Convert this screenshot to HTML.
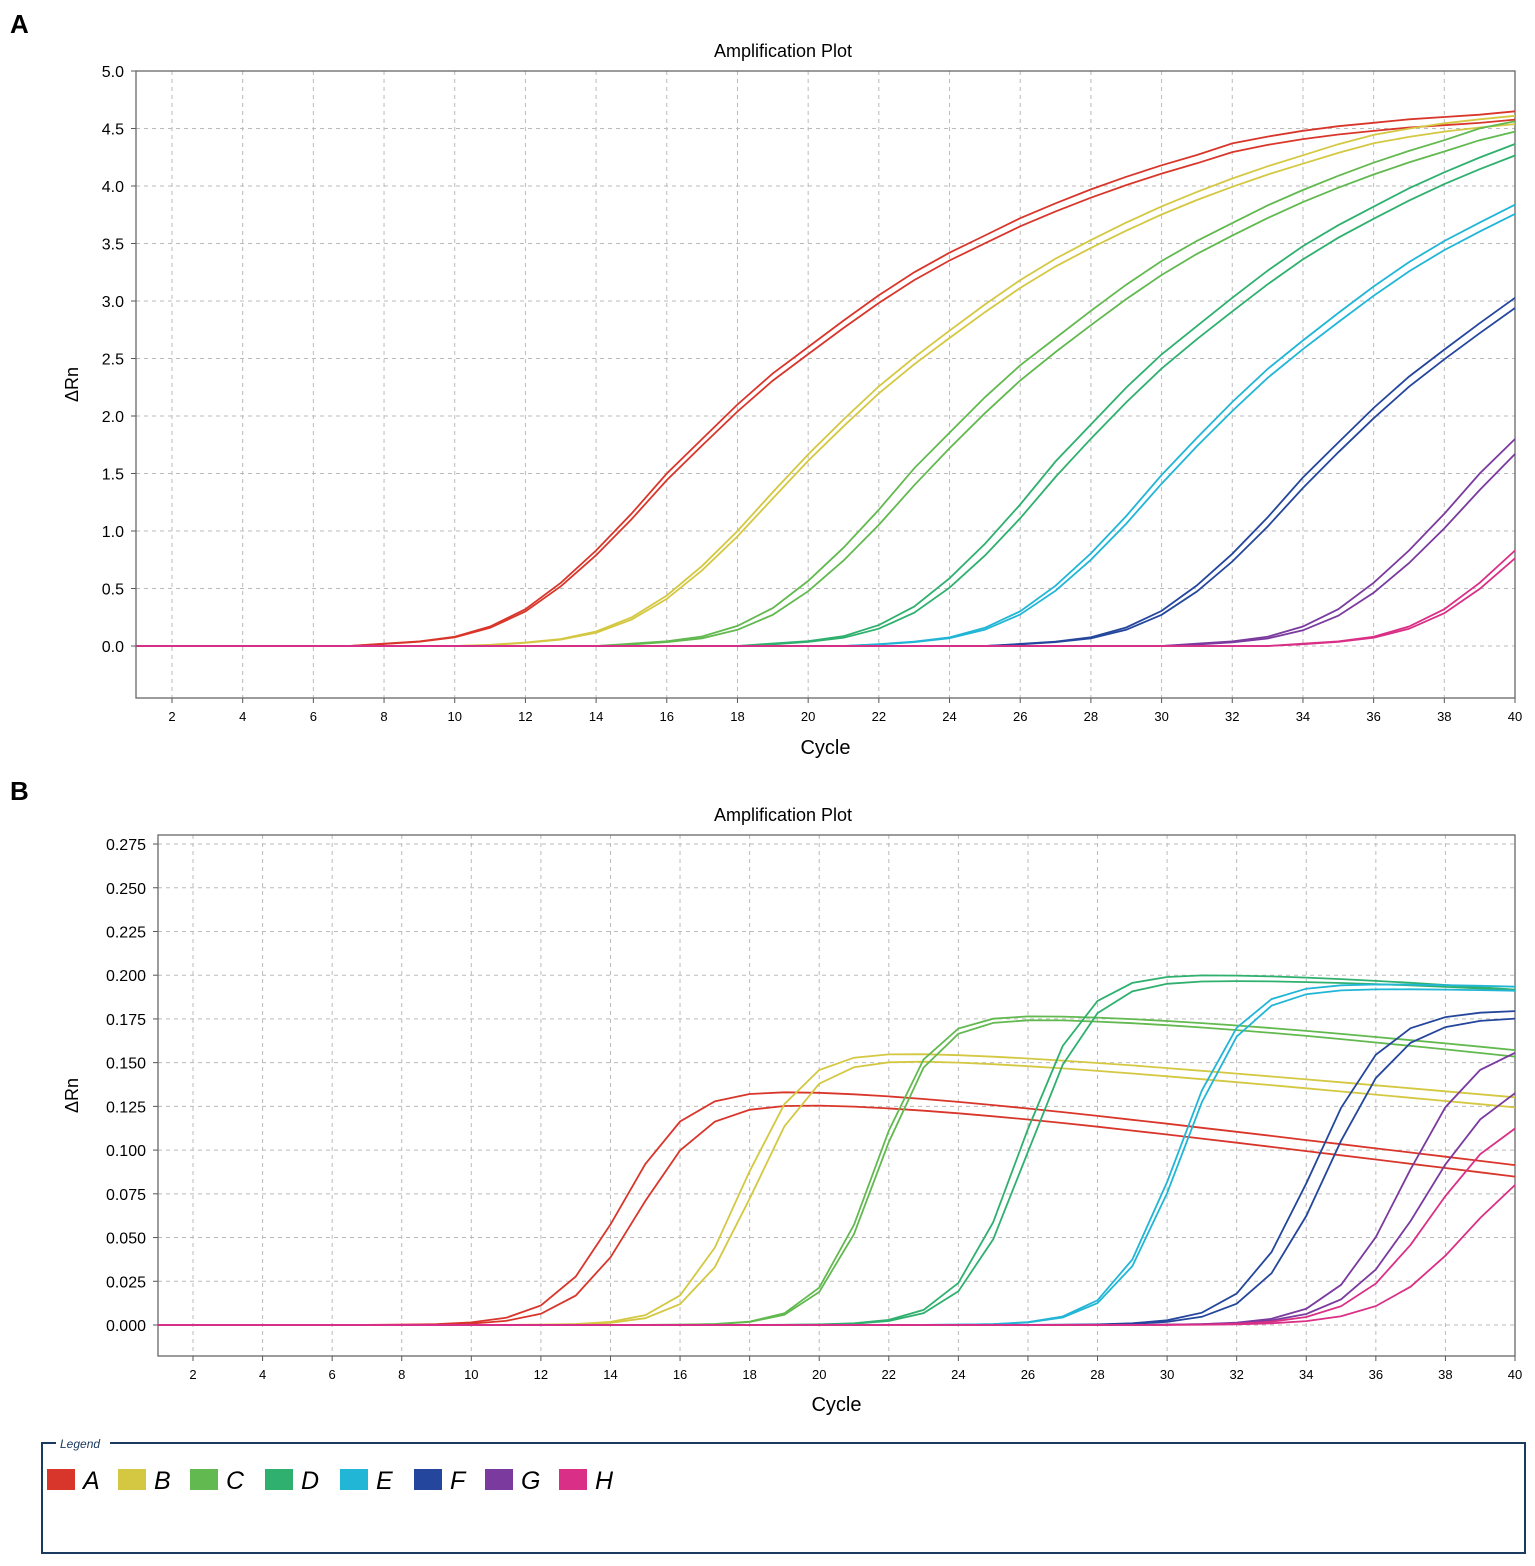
<!DOCTYPE html>
<html><head><meta charset="utf-8"><style>
body{margin:0;background:#fff;width:1535px;height:1561px;overflow:hidden;font-family:"Liberation Sans",sans-serif}
</style></head><body>
<svg id="s" width="1535" height="1561" xmlns="http://www.w3.org/2000/svg" font-family="Liberation Sans, sans-serif"></svg>
<script>
const s=document.getElementById('s');let h='';
h+='<text x="10" y="33" font-size="26" font-weight="bold">A</text>';
h+='<text x="10" y="800" font-size="26" font-weight="bold">B</text>';
const cols=['#d9362b','#d4c842','#62b94f','#2fb06e','#21b5d6','#24469c','#7a3a9e','#d92f86'];
function panel(L,T,R,B,x2,x40,y0,ppu,ticks,fmt,titleY,cycleY,ylabX,series){
 const xs=c=>x2+(c-2)*(x40-x2)/38, ys=v=>y0-v*ppu;
 h+=`<text x="783" y="${titleY}" font-size="18" text-anchor="middle">Amplification Plot</text>`;
 for(let c=2;c<=38;c+=2)h+=`<line x1="${xs(c)}" y1="${T}" x2="${xs(c)}" y2="${B}" stroke="#bbb" stroke-dasharray="4,4"/>`;
 ticks.forEach(v=>{h+=`<line x1="${L}" y1="${ys(v)}" x2="${R}" y2="${ys(v)}" stroke="#bbb" stroke-dasharray="4,4"/>`;
  h+=`<line x1="${L-5}" y1="${ys(v)}" x2="${L}" y2="${ys(v)}" stroke="#555"/>`;
  h+=`<text x="${L-12}" y="${ys(v)+6}" font-size="16" text-anchor="end">${fmt(v)}</text>`;});
 for(let c=2;c<=40;c+=2){h+=`<line x1="${xs(c)}" y1="${B}" x2="${xs(c)}" y2="${B+5}" stroke="#555"/>`;
  h+=`<text x="${xs(c)}" y="${B+23}" font-size="13" text-anchor="middle">${c}</text>`;}
 h+=`<rect x="${L}" y="${T}" width="${R-L}" height="${B-T}" fill="none" stroke="#666" stroke-width="1.3"/>`;
 h+=`<text x="${(L+R)/2}" y="${cycleY}" font-size="20" text-anchor="middle">Cycle</text>`;
 h+=`<text transform="translate(${ylabX},${(T+B)/2}) rotate(-90)" font-size="18" text-anchor="middle">ΔRn</text>`;
 series.forEach(f=>{let p='';for(let c=1;c<=40;c+=1){p+=(c==1?'M':'L')+xs(c).toFixed(1)+','+ys(f(c)).toFixed(1);}
  h+=`<path d="${p}" fill="none" stroke="${f.col}" stroke-width="1.8"/>`;});
}
const T={7:0,8:0.02,9:0.04,10:0.08,11:0.17,12:0.32,13:0.55,14:0.83,15:1.15,16:1.5,17:1.8,18:2.1,19:2.37,20:2.6,21:2.83,22:3.05,23:3.25,24:3.42,25:3.57,26:3.72,27:3.85,28:3.97,29:4.08,30:4.18,31:4.27,32:4.37,33:4.43,34:4.48,35:4.52,36:4.55,37:4.58,38:4.6,39:4.62,40:4.65};
function tmpl(x){if(x<=7)return 0;if(x>=40)return 4.65+(x-40)*0.02;const a=Math.floor(x),t=x-a;return T[a]*(1-t)+T[a+1]*t;}
function sA(sh,sc,col){const f=c=>sc*tmpl(c-sh);f.col=col;return f;}
const A=[];
const sh=[0,3.5,7,11,14.2,18.1,23,26], scs=[1,1.01,1.03,1.07,1.04,1,1,1], rep=[0.1,0.1,0.35,0.3,0.15,0.2,0.35,0.2];
sh.forEach((v,i)=>{A.push(sA(v,scs[i],cols[i]));A.push(sA(v+rep[i],scs[i]*0.985,cols[i]));});
function sB(m,P,ds,d,k,col){const f=c=>P/(1+Math.exp(-(c-m)/k))*(1-d*3*Math.log(1+Math.exp((c-ds)/3)));f.col=col;return f;}
const bp=[[14.3,0.137,21,0.0175,0.95],[14.8,0.129,22,0.019,0.95],[17.8,0.158,24,0.011,0.85],[18.1,0.154,24,0.012,0.85],
[21.6,0.179,29,0.011,0.8],[21.7,0.177,29,0.012,0.8],[25.8,0.202,34,0.008,0.9],[26,0.198,35,0.006,0.9],
[30.3,0.196,38,0.004,0.9],[30.4,0.193,38,0.003,0.9],[34.2,0.18,41,0,1],[34.6,0.176,41,0,1],
[36.8,0.162,41,0,1],[37.4,0.145,41,0,1.1],[37.6,0.125,41,0,1.1],[38.6,0.105,41,0,1.2]];
const Bs=bp.map((p,i)=>sB(p[0],p[1],p[2],p[3],p[4],cols[i>>1]));
panel(136,71,1515,698,172,1515,646,115,[0,0.5,1,1.5,2,2.5,3,3.5,4,4.5,5],v=>v.toFixed(1),57,754,78,A);
panel(158,835,1515,1356,193,1515,1325,1749,[0,.025,.05,.075,.1,.125,.15,.175,.2,.225,.25,.275],v=>v.toFixed(3),821,1411,78,Bs);
h+='<path d="M56,1443 H42 V1553 H1525 V1443 H110" fill="none" stroke="#1a3a60" stroke-width="2"/>';
h+='<text x="60" y="1448" font-size="12" font-style="italic" fill="#1a3a60">Legend</text>';
const lx=[47,118,190,265,340,414,485,559];
'ABCDEFGH'.split('').forEach((l,i)=>{h+=`<rect x="${lx[i]}" y="1469" width="28" height="21" fill="${cols[i]}"/>`;
 h+=`<text x="${lx[i]+36}" y="1489" font-size="25" font-style="italic">${l}</text>`;});
s.innerHTML=h;
</script>
</body></html>
